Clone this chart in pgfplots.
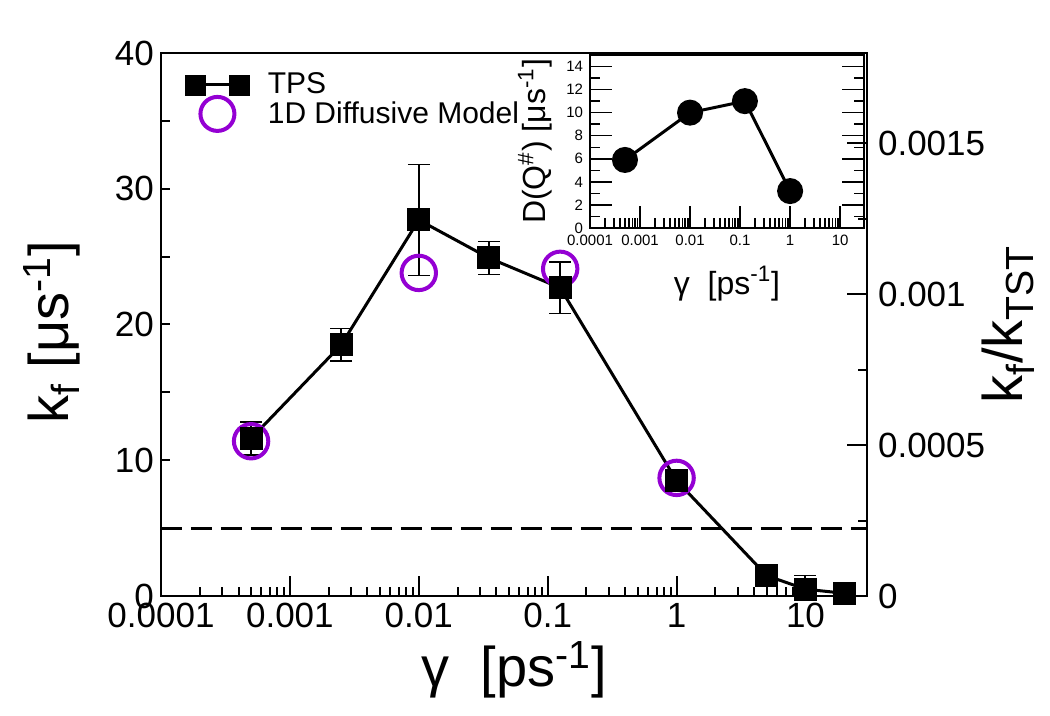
\documentclass[border=0pt]{standalone}
\usepackage{fontspec}
\setmainfont{Liberation Sans}
\usepackage{pgfplots}
\usepackage{pgfplotstable}
\pgfplotsset{compat=1.18}
\definecolor{dviolet}{RGB}{148,0,211}

% TPS rates with error bars
\pgfplotstableread{
g      kf    err
0.0005 11.6  1.2
0.0025 18.5  1.2
0.01   27.7  4.1
0.035  24.9  1.2
0.125  22.7  1.9
1      8.5   0.3
5      1.5   0.2
10     0.5   1.0
20     0.2   0.1
}\tps
% 1D diffusive model
\pgfplotstableread{
g      kf
0.0005 11.4
0.01   23.8
0.125  24.1
1      8.7
}\diff
% inset: D(Q#)
\pgfplotstableread{
g      D
0.0005 5.9
0.01   10.0
0.125  11.0
1      3.2
}\dq

\newcommand{\labfont}{\fontsize{28}{30}\selectfont}
\newcommand{\tickfont}{\fontsize{17.5}{19}\selectfont}

\begin{document}
\begin{tikzpicture}
\begin{axis}[
  name=main,
  scale only axis, width=353pt, height=271.5pt,
  xmode=log, xmin=1e-4, xmax=30, ymin=0, ymax=40,
  xtick={1e-4,1e-3,1e-2,1e-1,1,10},
  xticklabels={0.0001,0.001,0.01,0.1,1,10},
  ytick={0,10,20,30,40}, minor ytick={5,15,25,35},
  xtick pos=left, ytick pos=left,
  xtick style={/pgfplots/major tick length=10pt},
  ytick style={/pgfplots/major tick length=4.5pt},
  minor tick length=4.5pt,
  every tick/.style={black, line width=1pt},
  axis line style={line width=1pt},
  tick label style={font=\tickfont},
  /pgf/number format/assume math mode=true,
  xlabel={γ~~[ps\textsuperscript{-1}]},
  ylabel={k\textsubscript{f} [μs\textsuperscript{-1}]},
  label style={font=\labfont},
  xlabel style={at={(axis description cs:0.5,-0.136)}, anchor=center},
  ylabel style={at={(axis description cs:-0.155,0.485)}, anchor=center},
  legend style={at={(axis description cs:0.025,0.975)}, anchor=north west,
    draw=none, fill=none, font=\fontsize{15}{17}\selectfont,
    nodes={inner sep=1pt}, column sep=8pt, row sep=-2pt},
  legend cell align=left,
]
\coordinate (BL) at (rel axis cs:0,0);
\addlegendimage{legend image code/.code={
  \draw[black, line width=1.5pt] (0pt,0pt) -- (22pt,0pt);
  \fill[black] (-5pt,-5pt) rectangle (5pt,5pt);
  \fill[black] (17pt,-5pt) rectangle (27pt,5pt);}}
\addlegendimage{legend image code/.code={
  \path[draw=none, fill=none] (-5pt,-5pt) rectangle (27pt,5pt);
  \draw[dviolet, line width=2pt] (11pt,0pt) circle (8.5pt);}}
\legend{TPS, 1D Diffusive Model}

\addplot[forget plot, black, line width=1.5pt, dash pattern=on 10.5pt off 4.5pt]
  coordinates {(1e-4,5) (30,5)};
\addplot[forget plot, only marks, mark=o, mark size=8.6pt, dviolet,
  mark options={line width=2pt}] table[x=g, y=kf]{\diff};
\addplot[forget plot, black, line width=1.5pt, mark=square*, mark size=5pt,
  error bars/.cd, y dir=both, y explicit,
  error bar style={line width=0.75pt},
  error mark options={rotate=90, line width=0.75pt, mark size=5.5pt}]
  table[x=g, y=kf, y error=err]{\tps};
\end{axis}

% right axis k_f/k_TST
\begin{axis}[
  scale only axis, width=353pt, height=271.5pt,
  xmode=log, xmin=1e-4, xmax=30, ymin=0, ymax=0.0018,
  axis x line=none, axis y line*=right,
  ytick={0,0.0005,0.001,0.0015},
  yticklabels={0,0.0005,0.001,0.0015},
  minor ytick={0.00025,0.00075,0.00125},
  scaled y ticks=false,
  major tick length=10pt, minor tick length=4.5pt,
  every tick/.style={black, line width=1pt},
  axis line style={line width=1pt},
  tick label style={font=\tickfont},
  yticklabel style={xshift=2pt},
  ylabel={k\textsubscript{f}/k\textsubscript{TST}},
  label style={font=\labfont},
  ylabel style={at={(axis description cs:1.2,0.5)}, anchor=center},
]
\end{axis}

% inset
\begin{axis}[
  at={(main.north east)}, anchor=north east, xshift=-1.5pt, yshift=-1pt,
  scale only axis, width=137pt, height=86.5pt,
  xmode=log, xmin=1e-4, xmax=30, ymin=0, ymax=15,
  xtick={1e-4,1e-3,1e-2,1e-1,1,10},
  xticklabels={0.0001,0.001,0.01,0.1,1,10},
  ytick={0,2,...,14}, minor ytick={1,3,...,13},
  xtick pos=left, ytick pos=both,
  major tick length=11pt, minor tick length=5pt,
  every tick/.style={black, line width=0.75pt},
  axis line style={line width=1pt},
  tick label style={font=\fontsize{7.5}{8}\selectfont},
  /pgf/number format/assume math mode=true,
  xlabel={γ~~[ps\textsuperscript{-1}]},
  ylabel={D(Q\textsuperscript{\#}) [μs\textsuperscript{-1}]},
  label style={font=\fontsize{16}{18}\selectfont},
  xlabel style={at={(axis description cs:0.5,-0.32)}, anchor=center},
  ylabel style={at={(axis description cs:-0.2,0.5)}, anchor=center},
]
\addplot[black, line width=1.5pt, mark=*, mark size=5.75pt] table[x=g, y=D]{\dq};
\end{axis}

\pgfresetboundingbox
\path (BL) ++(-80.5pt,-60pt) rectangle ++(525pt,358pt);
\end{tikzpicture}
\end{document}
